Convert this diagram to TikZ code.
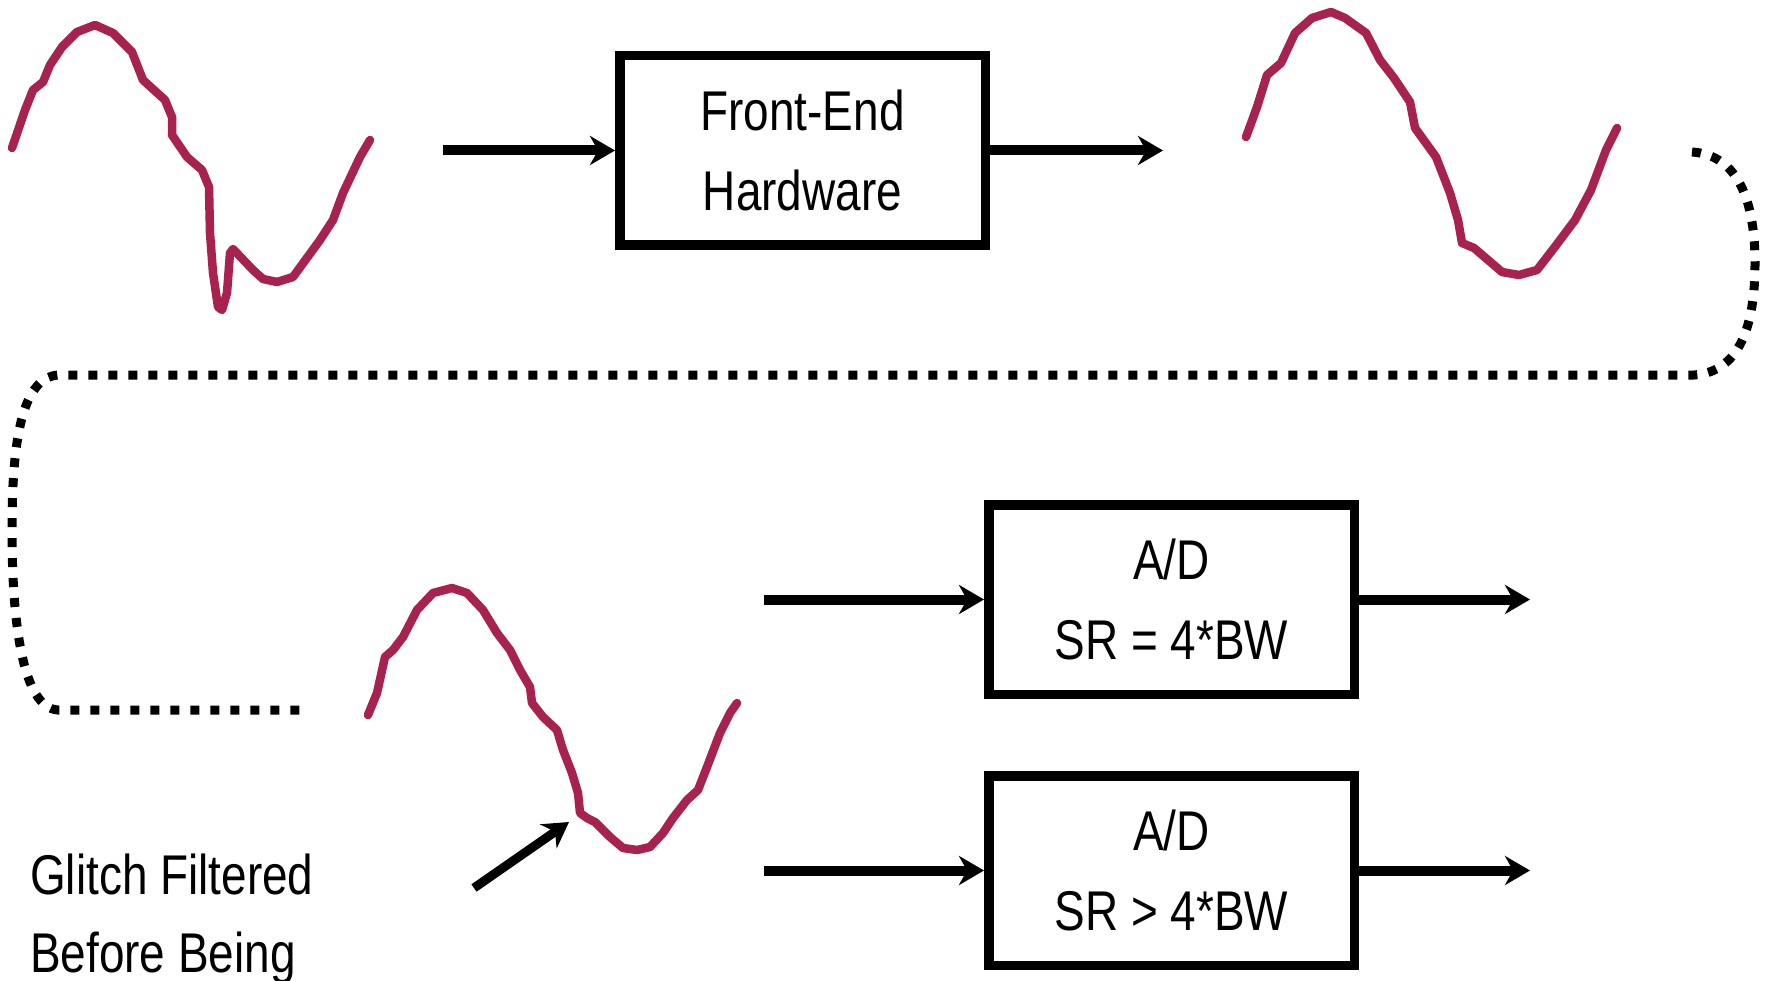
\documentclass[tikz,border=0pt]{standalone}
\usepackage{fontspec}
\setmainfont[FakeStretch=0.82]{Liberation Sans}
\usetikzlibrary{arrows.meta}
\definecolor{wave}{RGB}{168,34,80}
\begin{document}
\begin{tikzpicture}[x=1pt,y=-1pt,
  blk/.style={draw=black, line width=9.5pt, minimum width=365.5pt, minimum height=189.5pt, inner sep=0pt, align=center, font=\fontsize{56}{80}\selectfont},
  arr/.style={line width=10pt, -{Stealth[length=25pt,width=29pt,inset=8pt]}},
  sig/.style={draw=wave, line width=8.5pt, line join=round, line cap=round},
  dots/.style={line width=9pt, dash pattern=on 9pt off 11pt},
  lbl/.style={font=\fontsize{56}{78}\selectfont, align=left, inner sep=0pt}]
\useasboundingbox (0,0) rectangle (1766,981);

% blocks
\node[blk] (fe) at (802.5,150.5) {Front-End\\Hardware};
\node[blk] (ad1) at (1171.5,599.5) {A/D\\SR = 4*BW};
\node[blk] (ad2) at (1171.5,870.5) {A/D\\SR > 4*BW};

% connector ends
\coordinate (in1) at (443,150.5);
\coordinate (out1) at (1163,150.5);
\coordinate (in2) at (764,599.5);
\coordinate (out2) at (1530,599.5);
\coordinate (in3) at (764,870.5);
\coordinate (out3) at (1530,870.5);
\coordinate (gtail) at (474,888);
\coordinate (gtip) at (569,822);

\draw[arr] (in1) -- (fe.west);
\draw[arr] (fe.east) -- (out1);
\draw[arr] (in2) -- (ad1.west);
\draw[arr] (ad1.east) -- (out2);
\draw[arr] (in3) -- (ad2.west);
\draw[arr] (ad2.east) -- (out3);
\draw[arr, line width=9pt] (gtail) -- (gtip);

% dotted wrap-around line
\coordinate (d0) at (1692,152);
\coordinate (d1) at (1694,375);
\coordinate (d2) at (58,375);
\coordinate (d3) at (307,710);
\draw[dots] (d0) .. controls (1740,155) and (1755,205) .. (1755,263)
  .. controls (1755,325) and (1740,372) .. (d1) -- (d2)
  .. controls (22,378) and (12,440) .. (12,530)
  .. controls (12,620) and (22,708) .. (58,710) -- (d3);

% waveforms
\draw[sig] (12,148) -- (25,110) -- (33,90) -- (43,82) -- (50,65) -- (62,47) -- (77,32) -- (95,25) -- (113,33) -- (132,52) -- (143,80) -- (165,100) -- (172,117) -- (172,135) -- (187,157) -- (202,170) -- (209,187) -- (210,233) -- (213,273) -- (218,307) -- (222,310) -- (227,293) -- (230,253) -- (233,249) -- (253,270) -- (263,279) -- (277,282) -- (293,277) -- (320,240) -- (333,220) -- (343,193) -- (360,157) -- (370,140);

\draw[sig] (1246,137) -- (1257,107) -- (1267,75) -- (1281,63) -- (1295,33) -- (1312,18) -- (1331,12) -- (1345,18) -- (1366,33) -- (1380,60) -- (1394,78) -- (1410,102) -- (1415,128) -- (1436,157) -- (1450,193) -- (1458,220) -- (1462,243) -- (1474,248) -- (1502,272) -- (1519,275) -- (1537,270) -- (1554,248) -- (1575,220) -- (1591,190) -- (1606,150) -- (1617,128);

\draw[sig] (368,715) -- (377,693) -- (385,657) -- (393,650) -- (403,637) -- (417,610) -- (433,593) -- (452,588) -- (467,593) -- (483,610) -- (497,633) -- (510,650) -- (520,670) -- (530,687) -- (532,703) -- (543,717) -- (557,730) -- (563,750) -- (572,773) -- (578,793) -- (580,813) -- (587,818) -- (595,822) -- (610,837) -- (623,848) -- (637,850) -- (650,847) -- (663,833) -- (673,818) -- (687,800) -- (698,790) -- (707,767) -- (720,733) -- (730,713) -- (737,703);

% label
\node[lbl, anchor=north west] (note) at (30,854) {Glitch Filtered\\Before Being};
\end{tikzpicture}
\end{document}
